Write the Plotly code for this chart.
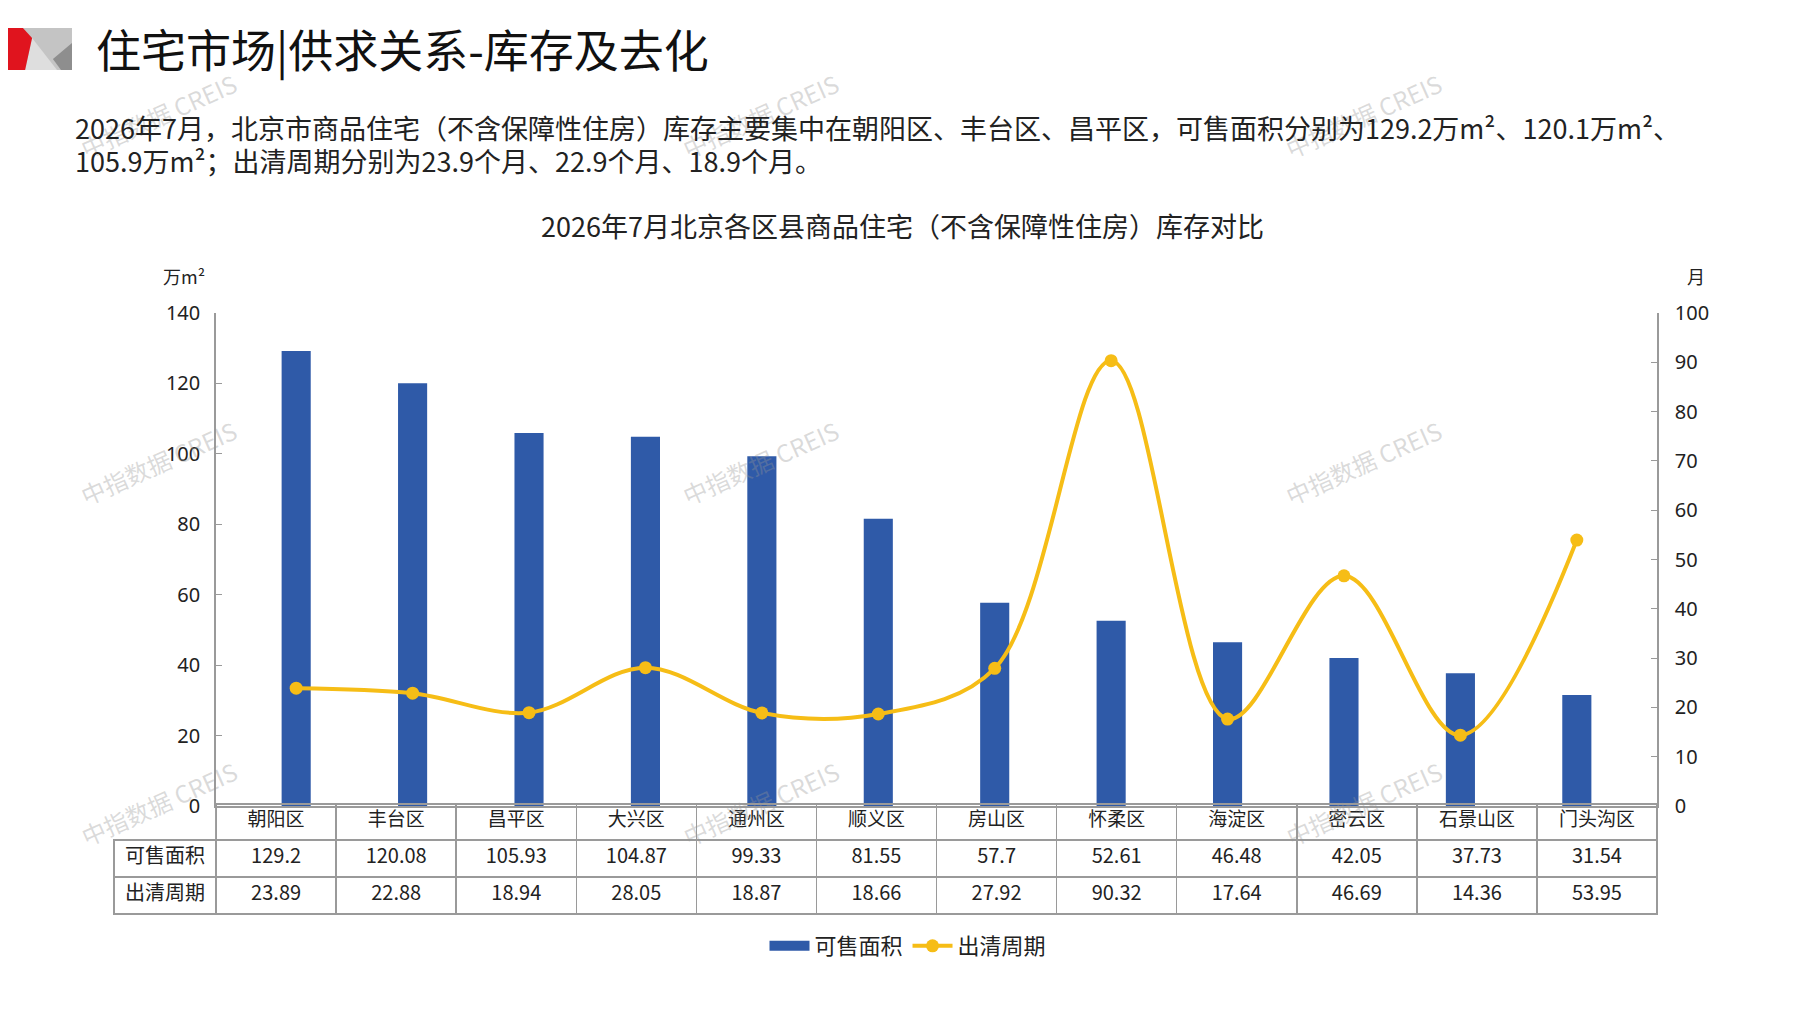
import plotly.graph_objects as go

# 数据
districts = ["朝阳区", "丰台区", "昌平区", "大兴区", "通州区", "顺义区",
             "房山区", "怀柔区", "海淀区", "密云区", "石景山区", "门头沟区"]
area = [129.2, 120.08, 105.93, 104.87, 99.33, 81.55, 57.7, 52.61, 46.48, 42.05, 37.73, 31.54]
period = [23.89, 22.88, 18.94, 28.05, 18.87, 18.66, 27.92, 90.32, 17.64, 46.69, 14.36, 53.95]
row_names = ["可售面积", "出清周期"]
area_ticks = [0, 20, 40, 60, 80, 100, 120, 140]
period_ticks = [0, 10, 20, 30, 40, 50, 60, 70, 80, 90, 100]

W, H = 1797, 1010
OFF = 8  # 页面自带的边距
BLUE = "#2F5AA8"
YELLOW = "#F6BD16"
GRID = "#9A9A9A"
CJK = "Noto Sans CJK SC"
CLEAR = "rgba(0,0,0,0)"


def fx(x):
    return (x - OFF) / W


def fy(y):
    return 1 - (y - OFF) / H


def path(points):
    s = "M " + " L ".join(f"{fx(x):.4f},{fy(y):.4f}" for x, y in points)
    return s + " Z"


bar = go.Bar(
    x=districts, y=area, name="可售面积",
    marker=dict(color=BLUE, line_width=0),
    showlegend=False, yaxis="y")

# 图例用的宽色块（不画数据）
bar_key = go.Scatter(
    x=[None], y=[None], name="可售面积", mode="lines",
    line=dict(color=BLUE, width=12), yaxis="y")

line = go.Scatter(
    x=districts, y=period, name="出清周期",
    mode="lines+markers",
    line=dict(color=YELLOW, width=4, shape="spline", smoothing=1.0),
    marker=dict(color=YELLOW, size=13),
    yaxis="y2")

# 底部数据表
n = len(districts)
table = go.Table(
    domain=dict(x=[fx(114), fx(1657)], y=[fy(920), fy(804)]),
    columnwidth=[102] + [120] * n,
    header=dict(
        values=[""] + districts,
        height=36,
        align="center",
        font=dict(family=CJK, size=19, color="#222"),
        fill_color=CLEAR,
        line=dict(color=[CLEAR] + [GRID] * n, width=1.5)),
    cells=dict(
        values=[row_names] + [[f"{a:g}", f"{p:g}"] for a, p in zip(area, period)],
        height=37,
        align="center",
        font=dict(family=CJK, size=20, color="#222"),
        fill_color=CLEAR,
        line=dict(color=GRID, width=1.5)))

fig = go.Figure(data=[bar, bar_key, line, table])

# 水印
marks = []
for wx in (158, 760, 1363):
    for wy in (116, 463, 803):
        marks.append(dict(
            x=fx(wx), y=fy(wy), xanchor="center", yanchor="middle",
            text="中指数据 CREIS", textangle=-24,
            font=dict(family=CJK, size=24, color="rgba(150,150,150,0.35)")))

texts = [
    dict(x=fx(94), y=fy(48), xanchor="left", yanchor="middle",
         text="住宅市场|供求关系-库存及去化",
         font=dict(family=CJK, size=45, color="#111")),
    dict(x=fx(73), y=fy(127), xanchor="left", yanchor="middle",
         text="2026年7月，北京市商品住宅（不含保障性住房）库存主要集中在朝阳区、丰台区、昌平区，"
              "可售面积分别为129.2万m²、120.1万m²、",
         font=dict(family=CJK, size=27, color="#222")),
    dict(x=fx(73), y=fy(160), xanchor="left", yanchor="middle",
         text="105.9万m²；出清周期分别为23.9个月、22.9个月、18.9个月。",
         font=dict(family=CJK, size=27, color="#222")),
    dict(x=fx(902), y=fy(226), xanchor="center", yanchor="middle",
         text="2026年7月北京各区县商品住宅（不含保障性住房）库存对比",
         font=dict(family=CJK, size=27, color="#222")),
    dict(x=fx(184), y=fy(276), xanchor="center", yanchor="middle",
         text="万m²", font=dict(family=CJK, size=18, color="#222")),
    dict(x=fx(1696), y=fy(276), xanchor="center", yanchor="middle",
         text="月", font=dict(family=CJK, size=18, color="#222")),
]
annotations = marks + texts
for a in annotations:
    a.update(xref="paper", yref="paper", showarrow=False)

# 左上角标志
logo = [
    dict(type="path", path=path([(23, 28), (72, 28), (72, 70), (23, 70)]),
         fillcolor="#C4C4C4", line_width=0),
    dict(type="path", path=path([(32, 38), (25, 70), (57, 70)]),
         fillcolor="#DEDEDE", line_width=0),
    dict(type="path", path=path([(72, 43), (53, 59), (61, 70), (72, 70)]),
         fillcolor="#8E8E8E", line_width=0),
    dict(type="path", path=path([(0, 28), (23, 28), (32, 38), (25, 70), (0, 70)]),
         fillcolor="#E0141E", line_width=0),
]
for s in logo:
    s.update(xref="paper", yref="paper", layer="above")

fig.update_layout(
    width=W, height=H, autosize=False,
    margin=dict(l=0, r=0, t=0, b=0, pad=0, autoexpand=False),
    paper_bgcolor="white", plot_bgcolor="white",
    font=dict(family="Noto Sans", color="#222"),
    bargap=0.75,
    showlegend=True,
    legend=dict(orientation="h", x=fx(908), y=fy(946), xanchor="center", yanchor="middle",
                font=dict(family=CJK, size=22, color="#222"),
                traceorder="normal", bgcolor=CLEAR, itemwidth=40),
    xaxis=dict(domain=[fx(216), fx(1657)], showticklabels=False, ticks="",
               showline=True, linecolor=GRID, linewidth=1.5, showgrid=False,
               zeroline=False, automargin=False),
    yaxis=dict(domain=[fy(806), fy(313)], range=[0, 140], tickvals=area_ticks,
               showgrid=False, zeroline=False, showline=True, linecolor=GRID,
               linewidth=1.5, ticks="inside", ticklen=6, tickcolor=GRID,
               tickfont=dict(family="Noto Sans", size=20, color="#222"),
               ticklabelstandoff=10, automargin=False),
    yaxis2=dict(overlaying="y", side="right", range=[0, 100], tickvals=period_ticks,
                showgrid=False, zeroline=False, showline=True, linecolor=GRID,
                linewidth=1.5, ticks="inside", ticklen=6, tickcolor=GRID,
                tickfont=dict(family="Noto Sans", size=20, color="#222"),
                ticklabelstandoff=12, automargin=False),
    annotations=annotations,
    shapes=logo,
)

fig.write_html("out.html")
